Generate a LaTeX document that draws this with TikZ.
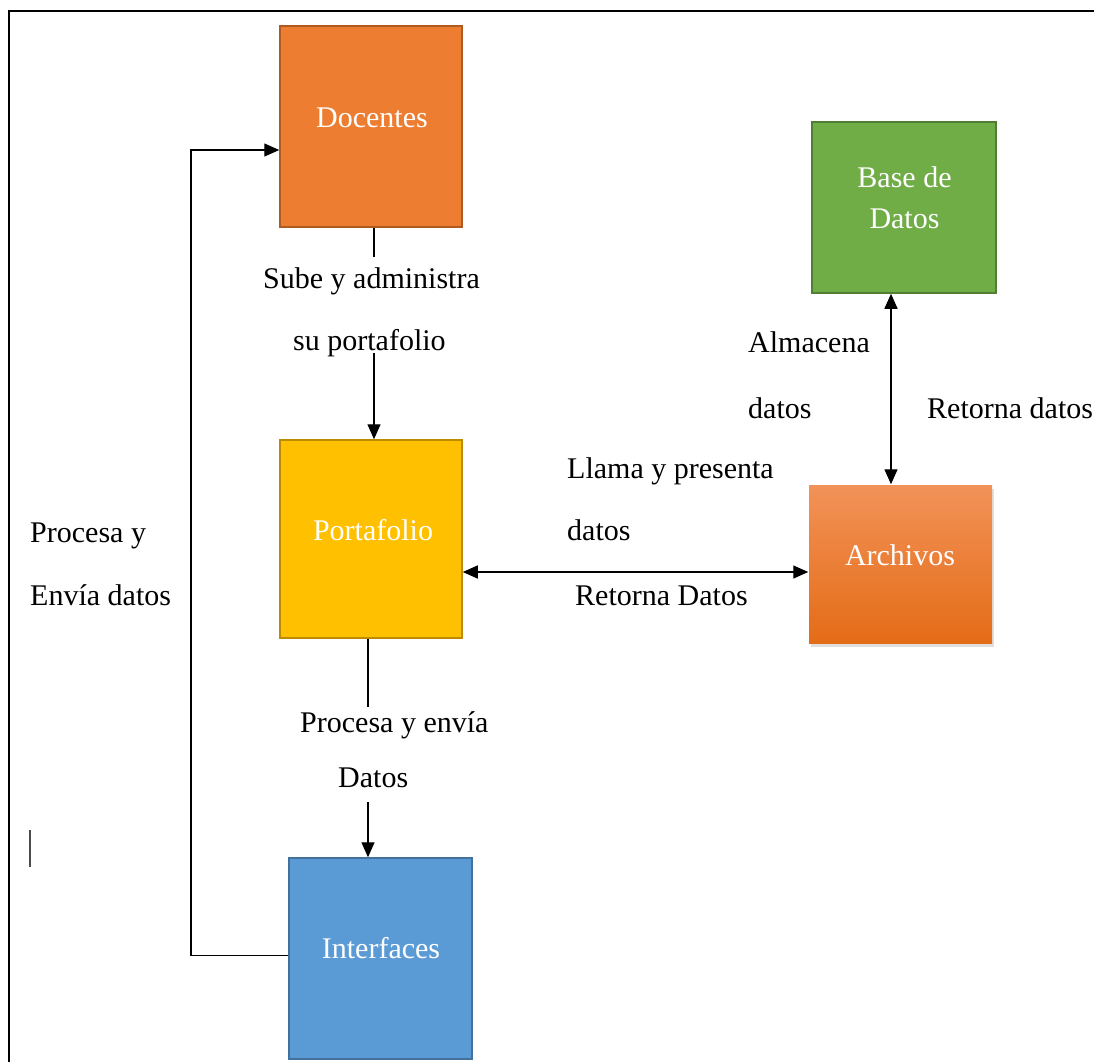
\documentclass[tikz,border=0pt]{standalone}
\usepackage{fontspec}
\setmainfont{Liberation Serif}
\usetikzlibrary{arrows.meta,shadows}

\definecolor{docfill}{HTML}{ED7D31}
\definecolor{docedge}{HTML}{AE5A21}
\definecolor{basefill}{HTML}{70AD47}
\definecolor{baseedge}{HTML}{507E32}
\definecolor{portfill}{HTML}{FFC000}
\definecolor{portedge}{HTML}{BC8C00}
\definecolor{intfill}{HTML}{5B9BD5}
\definecolor{intedge}{HTML}{41719C}
\definecolor{archtop}{HTML}{F29258}
\definecolor{archbot}{HTML}{E46C17}

\begin{document}
\begin{tikzpicture}[x=1pt,y=-1pt,
  box/.style={rectangle, inner sep=0pt, line width=1.5pt},
  boxtext/.style={anchor=base, text=white, font=\fontsize{30}{36}\selectfont, inner sep=0pt},
  lbl/.style={anchor=base west, font=\fontsize{30}{36}\selectfont, inner sep=0pt},
  cover/.style={lbl, fill=white, inner xsep=2pt},
  link/.style={line width=1.4pt, draw=black},
  oneway/.style={-{Triangle[length=15pt,width=13pt]}},
  twoway/.style={{Triangle[length=15pt,width=13pt]}-{Triangle[length=15pt,width=13pt]}}
]
\useasboundingbox (0,0) rectangle (1094,1061);

% page frame
\draw[line width=2pt] (9,1075) -- (9,11) -- (1110,11);

% boxes
\node[box, fill=docfill, draw=docedge, minimum width=182pt, minimum height=201pt] (doc) at (371,126.5) {};
\node[box, fill=basefill, draw=baseedge, minimum width=184pt, minimum height=171pt] (base) at (904,207.5) {};
\node[box, fill=portfill, draw=portedge, minimum width=182pt, minimum height=198pt] (port) at (371,539) {};
\node[box, top color=archtop, bottom color=archbot,
      drop shadow={shadow xshift=2pt, shadow yshift=-4pt, opacity=0.25},
      minimum width=183pt, minimum height=158pt] (arch) at (900.5,564) {};
\node[box, fill=intfill, draw=intedge, minimum width=183pt, minimum height=201pt] (int) at (380.5,958.5) {};

% box captions
\node[boxtext] (docT) at (372,127) {Docentes};
\node[boxtext] (baseT1) at (904.5,187) {Base de};
\node[boxtext] (baseT2) at (904.5,228) {Datos};
\node[boxtext] (portT) at (373,540) {Portafolio};
\node[boxtext] (archT) at (900,565) {Archivos};
\node[boxtext] (intT) at (381,958) {Interfaces};

% connectors
\coordinate (loopx) at (191,0);
\draw[link, oneway] ([xshift=3pt]doc.south) -- ([xshift=3pt]port.north);
\draw[link, twoway] ([xshift=-13pt]base.south) -- ([xshift=-9.5pt]arch.north);
\draw[link, twoway] ([yshift=-33pt]port.east) -- ([yshift=-8pt]arch.west);
\draw[link, oneway] ([xshift=-3pt]port.south) -- ([xshift=-12.5pt]int.north);
\draw[link, oneway] ([yshift=3pt]int.west) -- ([yshift=3pt]int.west -| loopx)
      |- ([yshift=-23.5pt]doc.west);

% labels that sit on a connector
\node[cover, text height=31pt, text depth=31pt] (subeA) at (261,288) {Sube y administra};
\node[cover, text height=31pt, text depth=3pt] (subeB) at (291,350) {su portafolio};
\node[cover, text height=25pt, text depth=24pt] (procA) at (298,732) {Procesa y envía};
\node[cover, text height=31pt, text depth=15pt] (procB) at (336,787) {Datos};

% free labels
\node[lbl] (llamaA) at (567,478) {Llama y presenta};
\node[lbl] (llamaB) at (567,540) {datos};
\node[lbl] (retA) at (575,605) {Retorna Datos};
\node[lbl] (almA) at (748,352) {Almacena};
\node[lbl] (almB) at (748,418) {datos};
\node[lbl] (retB) at (927,418) {Retorna datos};
\node[lbl] (envA) at (30,542) {Procesa y};
\node[lbl] (envB) at (30,605) {Envía datos};

% text cursor mark
\draw[line width=1.3pt, black!70] (30,830) -- (30,867);
\end{tikzpicture}
\end{document}
